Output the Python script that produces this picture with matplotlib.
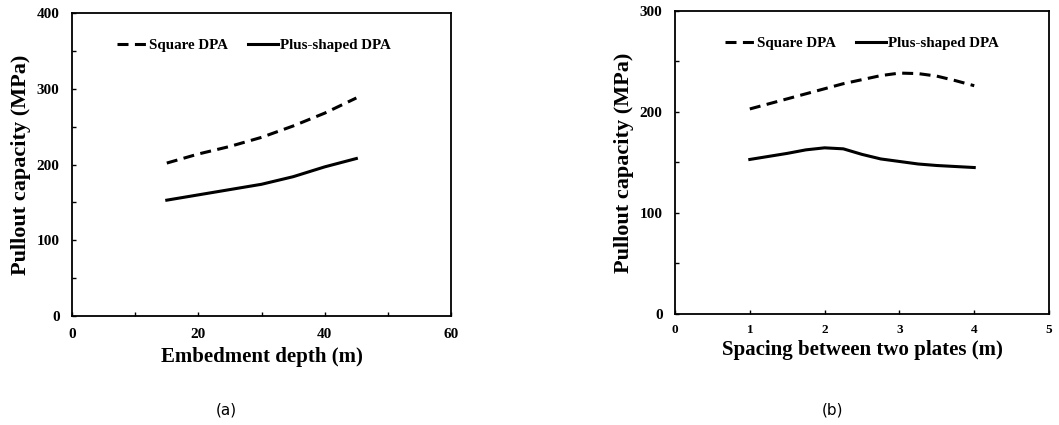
import matplotlib
matplotlib.use("Agg")
import matplotlib.pyplot as plt
from matplotlib.ticker import MultipleLocator

plt.rcParams['font.family'] = ['Liberation Serif', 'DejaVu Serif']
plt.rcParams['font.weight'] = 'bold'

# (a) embedment depth
depth = [15, 20, 25, 30, 35, 40, 45]
square_a = [202, 214, 224, 236, 251, 268, 288]
plus_a = [153, 160, 167, 174, 184, 197, 208]

# (b) spacing between plates
spacing = [1, 1.25, 1.5, 1.75, 2, 2.25, 2.5, 2.75, 3, 3.25, 3.5, 3.75, 4]
square_b = [203, 208, 213, 218, 223, 228, 232, 236, 238.5, 238, 235.5, 231, 226]
plus_b = [153, 156, 159, 162.5, 164.5, 163.5, 158, 153.5, 151, 148.5, 147, 146, 145]

DASH = (0, (3.6, 2.1))
LW = 2.2

fig = plt.figure(figsize=(10.59, 4.25), dpi=100)
ax1 = fig.add_axes([0.068, 0.2565, 0.358, 0.7125])
ax2 = fig.add_axes([0.6374, 0.2612, 0.3532, 0.713])

def style(ax, xlabel, xpad, xsize, xlab_pad):
    for s in ax.spines.values():
        s.set_linewidth(1.3)
    ax.tick_params(which='both', direction='in', length=3, width=1)
    ax.tick_params(axis='y', which='major', labelsize=11, pad=9)
    ax.tick_params(axis='x', which='major', labelsize=xsize, pad=xpad)
    ax.set_xlabel(xlabel, fontsize=15, fontweight='bold', labelpad=xlab_pad)
    ax.set_ylabel('Pullout capacity (MPa)', fontsize=16, fontweight='bold', labelpad=4)
    for lab in ax.get_xticklabels() + ax.get_yticklabels():
        lab.set_fontweight('bold')

ax1.plot(depth, square_a, color='black', lw=LW, ls=DASH, label='Square DPA')
ax1.plot(depth, plus_a, color='black', lw=LW, label='Plus-shaped DPA')
ax1.set_xlim(0, 60)
ax1.set_ylim(0, 400)
ax1.xaxis.set_major_locator(MultipleLocator(20))
ax1.xaxis.set_minor_locator(MultipleLocator(10))
ax1.yaxis.set_major_locator(MultipleLocator(100))
ax1.yaxis.set_minor_locator(MultipleLocator(50))
style(ax1, 'Embedment depth (m)', 9, 11, 4)

ax2.plot(spacing, square_b, color='black', lw=LW, ls=DASH, label='Square DPA')
ax2.plot(spacing, plus_b, color='black', lw=LW, label='Plus-shaped DPA')
ax2.set_xlim(0, 5)
ax2.set_ylim(0, 300)
ax2.xaxis.set_major_locator(MultipleLocator(1))
ax2.yaxis.set_major_locator(MultipleLocator(100))
ax2.yaxis.set_minor_locator(MultipleLocator(50))
style(ax2, 'Spacing between two plates (m)', 7, 9.5, 3)

for ax, xa in ((ax1, 0.48), (ax2, 0.5)):
    ax.legend(loc='upper center', bbox_to_anchor=(xa, 0.96), ncol=2, frameon=False,
              handlelength=2.0, handletextpad=0.15, columnspacing=1.3,
              prop={'family': 'Liberation Serif', 'weight': 'bold', 'size': 10.8})

fig.text(0.214, 0.025, '(a)', fontsize=11, family='DejaVu Sans', fontweight='normal', ha='center')
fig.text(0.786, 0.025, '(b)', fontsize=11, family='DejaVu Sans', fontweight='normal', ha='center')

fig.savefig('out.png', dpi=100)
